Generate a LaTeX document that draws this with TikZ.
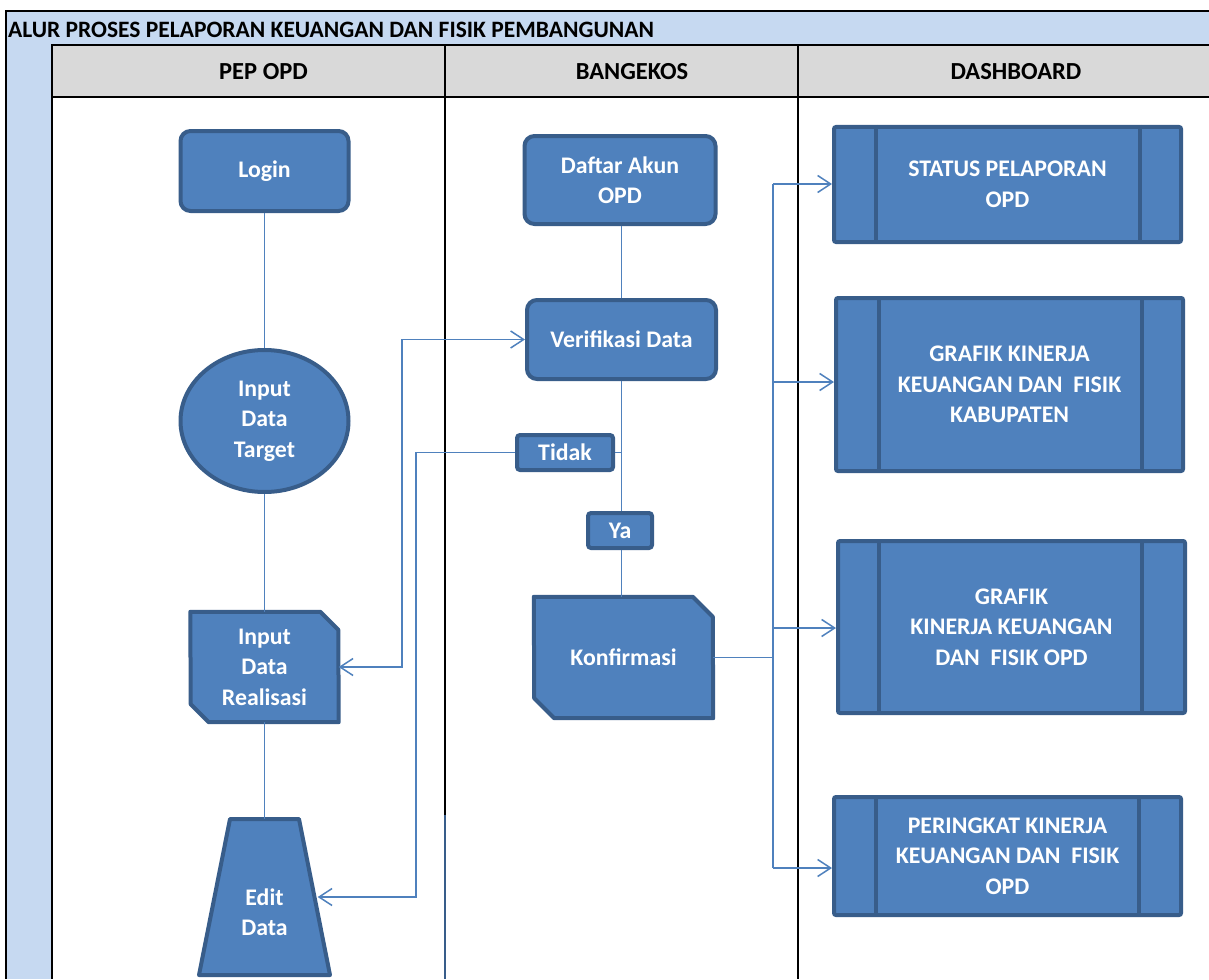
\documentclass[tikz,border=0pt]{standalone}
\usepackage{fontspec}
\setmainfont{Carlito}
\usetikzlibrary{shapes.geometric,arrows.meta}
\definecolor{fillb}{HTML}{4F81BD}
\definecolor{edgeb}{HTML}{385D8A}
\definecolor{bgblue}{HTML}{C6D9F1}
\definecolor{hdr}{HTML}{D9D9D9}
\pgfdeclarelayer{back}
\pgfdeclarelayer{mid}
\pgfsetlayers{back,mid,main}
\tikzset{
  shapetext/.style={text=white, font=\bfseries\fontsize{23.8}{30.5}\selectfont, align=center, inner sep=0pt},
  boxshape/.style={shapetext, fill=fillb, draw=edgeb, line width=4pt},
  rbox/.style={boxshape, rectangle, rounded corners=10pt},
  smallbox/.style={boxshape, rectangle, rounded corners=3pt},
  predef/.style={boxshape, rectangle, rounded corners=2pt, minimum width=347pt},
  snipshape/.style={fill=fillb, draw=edgeb, line width=4pt, line join=round},
  holder/.style={shapetext, rectangle, draw=none, fill=none},
  conn/.style={draw=fillb, line width=1.5pt},
  arr/.style={-{Straight Barb[length=13pt,width=17pt,line width=1.5pt]}},
  darr/.style={{Straight Barb[length=13pt,width=17pt,line width=1.5pt]}-{Straight Barb[length=13pt,width=17pt,line width=1.5pt]}},
  frame/.style={draw=black, line width=2pt},
  headtext/.style={font=\bfseries\fontsize{24.5}{28}\selectfont, text=black, inner sep=0pt},
  titletext/.style={font=\bfseries\fontsize{23.5}{28}\selectfont, text=black, inner sep=0pt},
}
\begin{document}
\begin{tikzpicture}[x=1pt,y=-1pt]
\useasboundingbox (0,0) rectangle (1209,979);
\begin{pgfonlayer}{back}
\fill[bgblue] (6,11) rectangle (1209,979);
\fill[hdr] (52,45) rectangle (1209,97);
\fill[white] (52,97) rectangle (1209,979);
\draw[frame] (1209,11) -- (6,11) -- (6,979);
\draw[frame] (1209,45) -- (52,45) -- (52,979);
\draw[frame] (52,97) -- (1209,97);
\draw[frame] (445,45) -- (445,815);
\draw[draw=edgeb, line width=2pt] (445,815) -- (445,979);
\draw[frame] (798,45) -- (798,979);
\end{pgfonlayer}

\node[titletext, anchor=west] (title) at (8,30) {ALUR PROSES PELAPORAN KEUANGAN DAN FISIK PEMBANGUNAN};
\node[headtext] (h1) at (263.5,72) {PEP OPD};
\node[headtext] (h2) at (632,72) {BANGEKOS};
\node[headtext] (h3) at (1016,72) {DASHBOARD};

% PEP OPD lane
\node[rbox, minimum width=168pt, minimum height=80pt] (login) at (264.5,171) {Login};
\node[boxshape, ellipse, minimum width=168pt, minimum height=142pt] (target) at (264.5,421) {Input\\Data\\Target};
\node[holder, minimum width=148pt, minimum height=110pt] (real) at (264.5,667) {Input\\Data\\Realisasi};
\begin{pgfonlayer}{mid}
\draw[snipshape] (real.north west) -- ++(130,0) -- ++(18,18) -- (real.south east) -- ++(-130,0) -- ++(-18,-18) -- cycle;
\end{pgfonlayer}
\node[holder, minimum width=106pt, minimum height=156pt] (edit) at (264.5,897) {};
\begin{pgfonlayer}{mid}
\draw[snipshape] (edit.center) ++(-34.5,-78) -- ++(69,0) -- ++(31,156) -- ++(-131,0) -- cycle;
\end{pgfonlayer}
\node[shapetext] (edittext) at (264.5,912) {Edit\\Data};

% BANGEKOS lane
\node[rbox, minimum width=191pt, minimum height=88pt] (daftar) at (620,180) {Daftar Akun\\OPD};
\node[rbox, minimum width=189pt, minimum height=79pt] (verif) at (621.5,339.5) {Verifikasi Data};
\node[smallbox, minimum width=96pt, minimum height=35pt] (tidak) at (565,452.5) {Tidak};
\node[smallbox, minimum width=64pt, minimum height=35pt] (ya) at (620,530.5) {Ya};
\node[holder, minimum width=179pt, minimum height=121pt] (konf) at (623.5,657.5) {Konfirmasi};
\begin{pgfonlayer}{mid}
\draw[snipshape] (konf.north west) -- ++(159,0) -- ++(20,20) -- (konf.south east) -- ++(-159,0) -- ++(-20,-20) -- cycle;
\end{pgfonlayer}

% DASHBOARD lane
\node[predef, minimum height=115pt] (d1) at (1007.5,184.5) {STATUS PELAPORAN\\OPD};
\node[predef, minimum height=173pt] (d2) at (1009.5,384.5) {GRAFIK KINERJA\\KEUANGAN DAN\ \ FISIK\\KABUPATEN};
\node[predef, minimum height=172pt] (d3) at (1011.5,627) {GRAFIK\\KINERJA KEUANGAN\\DAN\ \ FISIK OPD};
\node[predef, minimum height=118pt] (d4) at (1007.5,856) {PERINGKAT KINERJA\\KEUANGAN DAN\ \ FISIK\\OPD};
\foreach \d/\l/\r in {d1/44/43, d2/45/43, d3/43/45, d4/44/44} {
  \draw[draw=edgeb, line width=4pt] ([xshift=\l pt]\d.north west) -- ([xshift=\l pt]\d.south west);
  \draw[draw=edgeb, line width=4pt] ([xshift=-\r pt]\d.north east) -- ([xshift=-\r pt]\d.south east);
}

% connectors
\coordinate (j1) at (402,0);
\coordinate (j2) at (416,0);
\coordinate (b1) at (773,184);
\coordinate (b2) at (773,382);
\coordinate (b3) at (773,628);
\coordinate (b4) at (773,868);

\draw[conn] (login) -- (target);
\draw[conn] (target) -- (real);
\draw[conn] (real) -- (edit);
\draw[conn, darr] (real.east) -- (real.east -| j1) |- (verif.west);
\draw[conn, arr] (tidak.west) -- (tidak.west -| j2) |- (edit);
\draw[conn] (daftar.south -| verif) -- (verif.north);
\draw[conn] (verif.south) -- (ya.north -| verif);
\draw[conn] (tidak.east) -- (tidak.east -| verif);
\draw[conn] (ya.south -| verif) -- (konf.north -| verif);
\draw[conn] (konf.east) -- (konf.east -| b1);
\draw[conn] (b1) -- (b4);
\draw[conn, arr] (b1) -- (b1 -| d1.west);
\draw[conn, arr] (b2) -- (b2 -| d2.west);
\draw[conn, arr] (b3) -- (b3 -| d3.west);
\draw[conn, arr] (b4) -- (b4 -| d4.west);
\end{tikzpicture}
\end{document}
